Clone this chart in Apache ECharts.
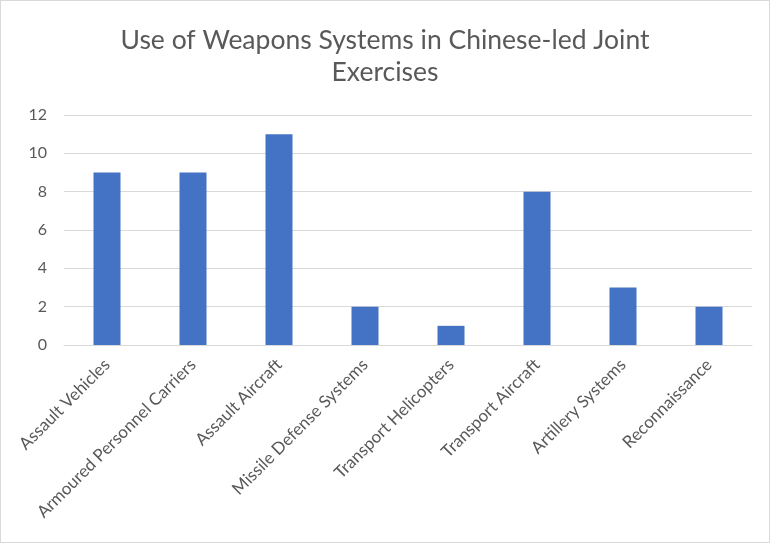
<!DOCTYPE html>
<html><head><meta charset="utf-8">
<script src="https://cdn.jsdelivr.net/npm/echarts@6/dist/echarts.min.js"></script>
<style>html,body{margin:0;padding:0;background:#fff;}
#c{position:absolute;left:0;top:0;width:768px;height:541px;border:1px solid #d9d9d9;}</style>
</head><body><div id="c"></div>
<script>
const categories = ["Assault Vehicles","Armoured Personnel Carriers","Assault Aircraft","Missile Defense Systems","Transport Helicopters","Transport Aircraft","Artillery Systems","Reconnaissance"];
const values = [9, 9, 11, 2, 1, 8, 3, 2];
const titleText = "Use of Weapons Systems in Chinese-led Joint\nExercises";
const chart = echarts.init(document.getElementById('c'));
const font = "Lato, 'Open Sans', sans-serif";
chart.setOption({
  animation: false,
  title: { text: titleText, left: 'center', top: 18, textStyle: { fontFamily: font, fontSize: 26.5, fontWeight: 'normal', color: '#595959', lineHeight: 32 } },
  grid: { left: 63, right: 17, top: 114, bottom: 197, containLabel: false },
  xAxis: { type: 'category', data: categories,
    axisLine: { lineStyle: { color: '#d9d9d9', width: 1 } }, axisTick: { show: false },
    axisLabel: { rotate: 45, interval: 0, color: '#595959', fontFamily: font, fontSize: 17, margin: 17 } },
  yAxis: { type: 'value', min: 0, max: 12, interval: 2,
    axisLine: { show: false }, axisTick: { show: false },
    splitLine: { lineStyle: { color: '#d9d9d9', width: 1 } },
    axisLabel: { color: '#595959', fontFamily: font, fontSize: 16, margin: 17 } },
  series: [{ type: 'bar', data: values, barWidth: 27, itemStyle: { color: '#4472C4' } }]
});
</script></body></html>
